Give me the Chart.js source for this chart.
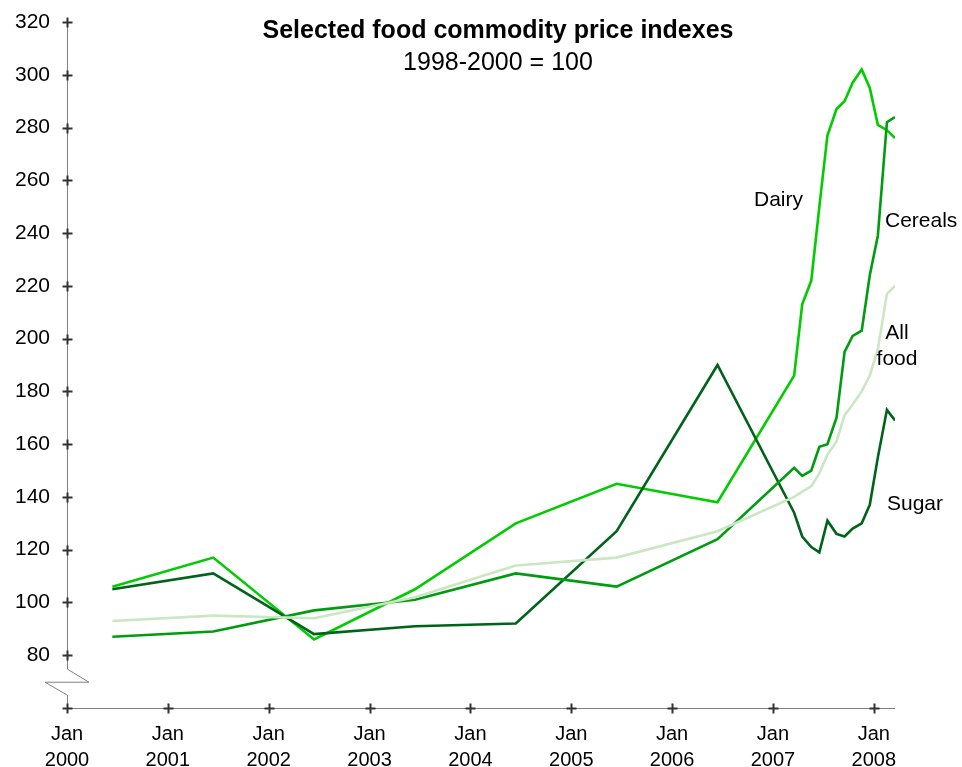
<!DOCTYPE html>
<html>
<head>
<meta charset="utf-8">
<script src="https://cdn.jsdelivr.net/npm/chart.js@4.4.1/dist/chart.umd.min.js"></script>
<style>
  body { margin: 0; background: #fff; }
  canvas { display: block; }
</style>
</head>
<body>
<canvas id="myChart" width="962" height="767"></canvas>
<script>
// annual averages 2000-2006 (plotted mid-year), then monthly Mar 2007 - Mar 2008
var xValues = [2000.45, 2001.45, 2002.45, 2003.45, 2004.45, 2005.45, 2006.45,
  2007.21, 2007.29, 2007.38, 2007.46, 2007.54, 2007.63, 2007.71, 2007.79, 2007.88, 2007.96,
  2008.04, 2008.13, 2008.21];

var dairy   = [106, 117, 86, 105, 130, 145, 138, 186, 213, 222, 250, 277, 287, 290, 297, 302, 295, 281, 279, 276];
var cereals = [87, 89, 97, 101, 111, 106, 124, 151, 148, 150, 159, 160, 170, 195, 201, 203, 224, 239, 282, 284];
var sugar   = [105, 111, 88, 91, 92, 127, 190, 134, 125, 121, 119, 131, 126, 125, 128, 130, 137, 155, 173, 169];
var allFood = [93, 95, 94, 102, 114, 117, 127, 140, 142, 144, 149, 156, 161, 171, 175, 180, 186, 196, 217, 220];

var yearTicks = [2000, 2001, 2002, 2003, 2004, 2005, 2006, 2007, 2008];
var valueTicks = [80, 100, 120, 140, 160, 180, 200, 220, 240, 260, 280, 300, 320];

var FONT = "'Liberation Sans', Arial, sans-serif";

function points(vals) {
  return vals.map(function (v, i) { return { x: xValues[i], y: v }; });
}

// axis lines with the break mark, "+" ticks, title and series labels
var decorations = {
  id: 'decorations',
  afterDraw: function (chart) {
    var c = chart.ctx;
    var xs = chart.scales.x, ys = chart.scales.y;
    var left = chart.chartArea.left, right = chart.chartArea.right, bottom = chart.chartArea.bottom;
    var top = ys.getPixelForValue(320), y80 = ys.getPixelForValue(80);

    c.save();
    c.strokeStyle = '#808080';
    c.lineWidth = 1;
    c.beginPath();
    c.moveTo(left + 0.5, top);
    c.lineTo(left + 0.5, y80 + 14);
    c.lineTo(left + 22, y80 + 27);
    c.lineTo(left - 22, y80 + 27);
    c.lineTo(left + 0.5, y80 + 40);
    c.lineTo(left + 0.5, bottom);
    c.stroke();
    c.beginPath();
    c.moveTo(left, bottom + 0.5);
    c.lineTo(right, bottom + 0.5);
    c.stroke();

    c.strokeStyle = '#333';
    c.lineWidth = 2;
    function cross(px, py) {
      c.beginPath();
      c.moveTo(px - 5, py); c.lineTo(px + 5, py);
      c.moveTo(px, py - 5); c.lineTo(px, py + 5);
      c.stroke();
    }
    valueTicks.forEach(function (v) { cross(left + 0.5, Math.round(ys.getPixelForValue(v)) + 0.5); });
    yearTicks.forEach(function (v) { cross(Math.round(xs.getPixelForValue(v)) + 0.5, bottom + 0.5); });

    c.fillStyle = '#000';
    c.textAlign = 'center';
    c.textBaseline = 'middle';
    c.font = 'bold 25px ' + FONT;
    c.fillText('Selected food commodity price indexes', 498, 31);
    c.font = '25px ' + FONT;
    c.fillText('1998-2000 = 100', 498, 63);

    c.font = '21px ' + FONT;
    c.textAlign = 'left';
    c.fillText('Dairy', 754, 200);
    c.fillText('Cereals', 885, 221);
    c.fillText('Sugar', 887, 504);
    c.textAlign = 'center';
    c.fillText('All', 897, 333);
    c.fillText('food', 897, 359);
    c.restore();
  }
};

var ctx = document.getElementById('myChart');
var myChart = new Chart(ctx, {
  type: 'line',
  data: {
    datasets: [
      { label: 'All food', data: points(allFood), borderColor: '#cbe6c2' },
      { label: 'Cereals', data: points(cereals), borderColor: '#009c10' },
      { label: 'Sugar', data: points(sugar), borderColor: '#00631a' },
      { label: 'Dairy', data: points(dairy), borderColor: '#00cc00' }
    ]
  },
  options: {
    responsive: false,
    animation: false,
    layout: { padding: { top: 22, right: 67, left: 0, bottom: 0 } },
    elements: {
      line: { borderWidth: 2.6, tension: 0, fill: false },
      point: { radius: 0, hoverRadius: 0 }
    },
    plugins: { legend: { display: false }, tooltip: { enabled: false }, title: { display: false } },
    scales: {
      x: {
        type: 'linear',
        min: 2000,
        max: 2008.21,
        grid: { display: false, drawTicks: false },
        border: { display: false },
        afterBuildTicks: function (s) { s.ticks = yearTicks.map(function (v) { return { value: v }; }); },
        afterFit: function (s) { s.height = 59; s.paddingLeft = 0; s.paddingRight = 0; },
        ticks: {
          autoSkip: false,
          maxRotation: 0,
          padding: 13,
          color: '#000',
          font: { family: FONT, size: 20, lineHeight: 1.3 },
          callback: function (v) { return ['Jan', String(v)]; }
        }
      },
      y: {
        min: 60,
        max: 320,
        grid: { display: false, drawTicks: false },
        border: { display: false },
        afterBuildTicks: function (s) { s.ticks = valueTicks.map(function (v) { return { value: v }; }); },
        afterFit: function (s) { s.width = 67; s.paddingTop = 0; s.paddingBottom = 0; },
        ticks: {
          padding: 17,
          color: '#000',
          font: { family: FONT, size: 21 }
        }
      }
    }
  },
  plugins: [decorations]
});
</script>
</body>
</html>
